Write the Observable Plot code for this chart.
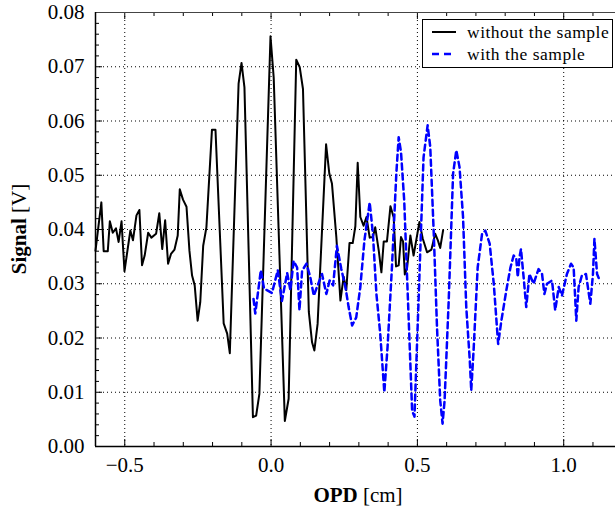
<!DOCTYPE html>
<html>
<head>
<meta charset="utf-8">
<script src="https://cdn.jsdelivr.net/npm/d3@7"></script>
<script src="https://cdn.jsdelivr.net/npm/@observablehq/plot@0.6"></script>
<style>
  html, body { margin: 0; padding: 0; background: white; }
</style>
</head>
<body>
<div id="chart"></div>
<script>
// "without the sample" series
const xWithout = [-0.600,-0.580,-0.572,-0.558,-0.551,-0.541,-0.530,-0.521,-0.511,-0.501,-0.481,-0.472,-0.460,-0.450,-0.441,-0.432,-0.420,-0.409,-0.393,-0.382,-0.372,-0.362,-0.352,-0.342,-0.330,-0.319,-0.312,-0.301,-0.289,-0.279,-0.270,-0.261,-0.251,-0.242,-0.232,-0.221,-0.202,-0.190,-0.162,-0.150,-0.141,-0.111,-0.101,-0.091,-0.062,-0.051,-0.040,-0.002,0.009,0.047,0.060,0.086,0.098,0.109,0.129,0.140,0.148,0.159,0.188,0.199,0.208,0.223,0.237,0.248,0.257,0.268,0.279,0.288,0.296,0.305,0.316,0.326,0.337,0.348,0.356,0.368,0.377,0.385,0.396,0.408,0.419,0.427,0.436,0.444,0.451,0.457,0.465,0.476,0.487,0.507,0.518,0.533,0.548,0.561,0.570,0.578,0.588];
const yWithout = [0.0361,0.0450,0.0360,0.0360,0.0415,0.0394,0.0402,0.0377,0.0415,0.0323,0.0398,0.0380,0.0426,0.0436,0.0334,0.0352,0.0394,0.0385,0.0392,0.0430,0.0364,0.0417,0.0337,0.0355,0.0363,0.0389,0.0474,0.0455,0.0442,0.0361,0.0315,0.0297,0.0232,0.0266,0.0370,0.0404,0.0584,0.0584,0.0227,0.0208,0.0172,0.0669,0.0707,0.0662,0.0054,0.0057,0.0097,0.0756,0.0680,0.0047,0.0088,0.0713,0.0699,0.0659,0.0248,0.0192,0.0177,0.0226,0.0557,0.0503,0.0485,0.0386,0.0269,0.0313,0.0288,0.0375,0.0375,0.0406,0.0523,0.0423,0.0407,0.0423,0.0385,0.0386,0.0404,0.0361,0.0321,0.0378,0.0378,0.0443,0.0422,0.0332,0.0334,0.0386,0.0378,0.0317,0.0330,0.0389,0.0352,0.0414,0.0384,0.0358,0.0363,0.0392,0.0380,0.0366,0.0399];

// "with the sample" series
const xWith = [-0.060,-0.054,-0.035,-0.024,0.003,0.023,0.037,0.055,0.066,0.077,0.089,0.097,0.106,0.121,0.134,0.146,0.157,0.174,0.189,0.200,0.212,0.225,0.240,0.254,0.265,0.277,0.291,0.305,0.319,0.337,0.348,0.360,0.373,0.387,0.398,0.413,0.428,0.436,0.444,0.455,0.470,0.482,0.490,0.504,0.521,0.535,0.544,0.556,0.567,0.578,0.586,0.593,0.607,0.622,0.633,0.644,0.656,0.667,0.679,0.684,0.692,0.706,0.721,0.732,0.747,0.761,0.776,0.787,0.804,0.818,0.829,0.838,0.843,0.849,0.854,0.863,0.872,0.883,0.897,0.914,0.926,0.934,0.943,0.960,0.971,0.983,0.994,1.011,1.025,1.034,1.043,1.051,1.062,1.076,1.091,1.100,1.105,1.114,1.123];
const yWith = [0.0272,0.0245,0.0325,0.0291,0.0283,0.0325,0.0268,0.0320,0.0288,0.0342,0.0330,0.0251,0.0324,0.0337,0.0312,0.0278,0.0294,0.0318,0.0281,0.0306,0.0297,0.0370,0.0327,0.0294,0.0257,0.0223,0.0238,0.0294,0.0380,0.0450,0.0392,0.0281,0.0208,0.0100,0.0183,0.0330,0.0503,0.0570,0.0543,0.0453,0.0238,0.0066,0.0055,0.0269,0.0533,0.0592,0.0552,0.0392,0.0220,0.0085,0.0042,0.0085,0.0269,0.0503,0.0546,0.0515,0.0423,0.0257,0.0159,0.0103,0.0177,0.0330,0.0392,0.0398,0.0374,0.0300,0.0189,0.0232,0.0288,0.0330,0.0352,0.0346,0.0312,0.0349,0.0364,0.0312,0.0257,0.0318,0.0300,0.0327,0.0318,0.0281,0.0300,0.0306,0.0251,0.0294,0.0278,0.0318,0.0337,0.0330,0.0232,0.0294,0.0315,0.0318,0.0263,0.0318,0.0383,0.0318,0.0306];

// ticks
const xMajor = [-0.5, 0.0, 0.5, 1.0];
const xMinor = [-0.6,-0.4,-0.3,-0.2,-0.1,0.1,0.2,0.3,0.4,0.6,0.7,0.8,0.9,1.1];
const yMajor = [0.00,0.01,0.02,0.03,0.04,0.05,0.06,0.07,0.08];
const yGrid = [0.01,0.02,0.03,0.04,0.05,0.06,0.07];
const yMinor = [];
for (let i = 0; i <= 40; i++) { if (i % 5 !== 0) yMinor.push(+(i * 0.002).toFixed(3)); }

const seriesLabels = ["without the sample", "with the sample"];
const xDomain = [-0.6, 1.177];
const yDomain = [0, 0.08];

const without = xWithout.map((x, i) => ({x, y: yWithout[i]}));
const withS = xWith.map((x, i) => ({x, y: yWith[i]}));

const W = 615, H = 510, mL = 95, mR = 0, mT = 12, mB = 64;
const plotW = W - mL - mR, plotH = H - mT - mB;

const fmtX = d => d < 0 ? "\u2212" + Math.abs(d).toFixed(1) : d.toFixed(1);

const chart = Plot.plot({
  width: W, height: H,
  marginLeft: mL, marginRight: mR, marginTop: mT, marginBottom: mB,
  style: {fontFamily: "'Liberation Serif', serif", fontSize: "21px", background: "white", color: "black", overflow: "visible"},
  x: {domain: xDomain},
  y: {domain: yDomain},
  marks: [
    Plot.gridX(xMajor, {stroke: "black", strokeOpacity: 1, strokeWidth: 1, strokeDasharray: "1,3"}),
    Plot.gridY(yGrid, {stroke: "black", strokeOpacity: 1, strokeWidth: 1, strokeDasharray: "1,3"}),
    Plot.axisX(xMajor, {tickSize: 0, tickPadding: 11, tickFormat: fmtX, label: null}),
    Plot.axisY(yMajor, {tickSize: 0, tickPadding: 11, tickFormat: d => d.toFixed(2), label: null}),
    // inward ticks, bottom & top
    Plot.tickX(xMajor, {x: d => d, insetTop: plotH - 7, stroke: "black", strokeWidth: 1}),
    Plot.tickX(xMinor, {x: d => d, insetTop: plotH - 4, stroke: "black", strokeWidth: 1}),
    Plot.tickX(xMajor, {x: d => d, insetBottom: plotH - 7, stroke: "black", strokeWidth: 1}),
    Plot.tickX(xMinor, {x: d => d, insetBottom: plotH - 4, stroke: "black", strokeWidth: 1}),
    // inward ticks, left
    Plot.tickY(yMajor, {y: d => d, insetRight: plotW - 7, stroke: "black", strokeWidth: 1}),
    Plot.tickY(yMinor, {y: d => d, insetRight: plotW - 4, stroke: "black", strokeWidth: 1}),
    Plot.line(without, {x: "x", y: "y", stroke: "black", strokeWidth: 2}),
    Plot.line(withS, {x: "x", y: "y", stroke: "#0000ff", strokeWidth: 2.5, strokeDasharray: "6,4"}),
    // spines
    Plot.ruleY([0.08], {stroke: "#444", strokeWidth: 1}),
    Plot.ruleX([xDomain[0]], {stroke: "black", strokeWidth: 1.5}),
    Plot.ruleY([0], {stroke: "black", strokeWidth: 1.5})
  ]
});

const svg = d3.select(chart);
// axis labels
const xl = svg.append("text")
  .attr("x", 358).attr("y", 502)
  .attr("text-anchor", "middle")
  .style("font-size", "21px").attr("fill", "black");
xl.append("tspan").attr("font-weight", "bold").text("OPD");
xl.append("tspan").text(" [cm]");

const yl = svg.append("text")
  .attr("transform", `translate(26,${mT + plotH / 2}) rotate(-90)`)
  .attr("text-anchor", "middle")
  .style("font-size", "21px").attr("fill", "black");
yl.append("tspan").attr("font-weight", "bold").text("Signal");
yl.append("tspan").text(" [V]");

// legend
const lg = svg.append("g").attr("text-anchor", "start");
lg.append("rect").attr("x", 422.5).attr("y", 19.5).attr("width", 190).attr("height", 48)
  .attr("fill", "white").attr("stroke", "black").attr("stroke-width", 1);
lg.append("line").attr("x1", 432).attr("x2", 456).attr("y1", 32).attr("y2", 32)
  .attr("stroke", "black").attr("stroke-width", 2);
lg.append("line").attr("x1", 432).attr("x2", 456).attr("y1", 54).attr("y2", 54)
  .attr("stroke", "#0000ff").attr("stroke-width", 2.5).attr("stroke-dasharray", "7,5");
lg.append("text").attr("x", 467).attr("y", 37.5).attr("text-anchor", "start").style("font-size", "17.5px").style("letter-spacing", "0.5px").attr("fill", "black").text(seriesLabels[0]);
lg.append("text").attr("x", 467).attr("y", 59.5).attr("text-anchor", "start").style("font-size", "17.5px").style("letter-spacing", "0.5px").attr("fill", "black").text(seriesLabels[1]);

document.getElementById("chart").appendChild(chart);
</script>
</body>
</html>
